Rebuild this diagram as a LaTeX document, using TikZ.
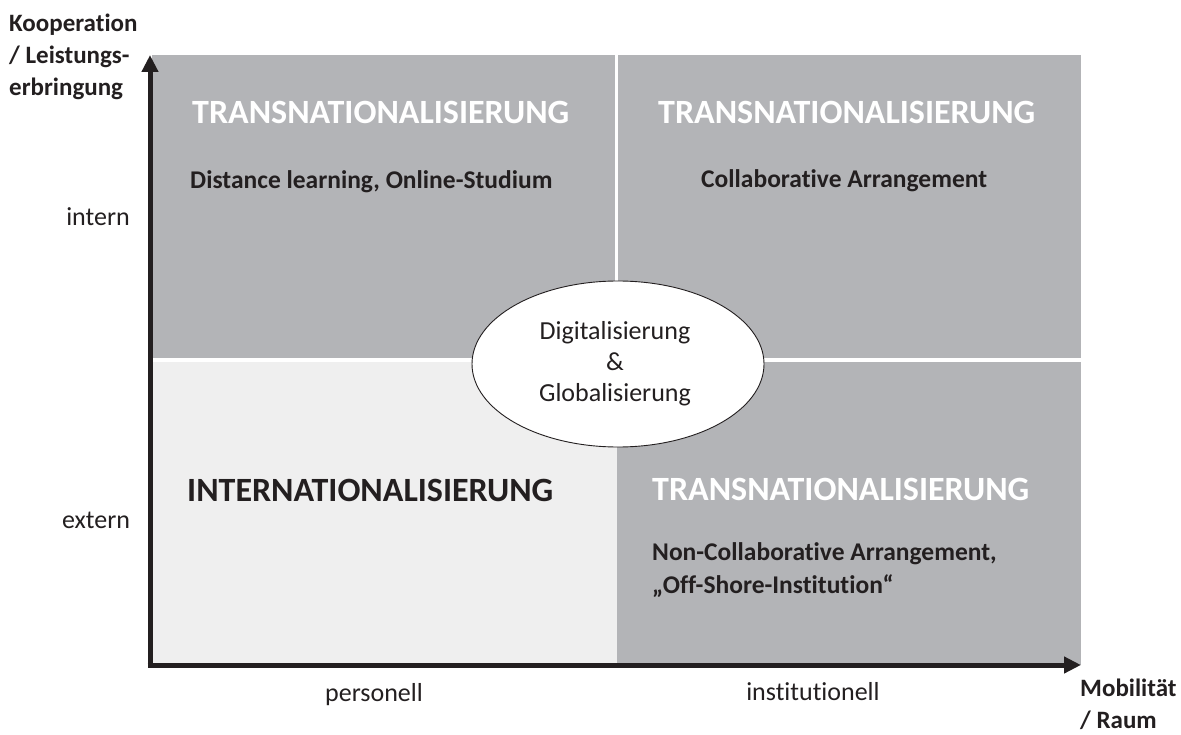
\documentclass[tikz,border=0pt]{standalone}
\usepackage{fontspec}
\setmainfont[Ligatures=NoCommon]{Carlito}
\usetikzlibrary{arrows.meta,shapes.geometric}
\definecolor{qdark}{RGB}{179,180,183}
\definecolor{qlight}{RGB}{239,239,239}
\definecolor{ink}{RGB}{35,31,32}
\tikzset{
  big/.style={font=\fontsize{34}{38}\selectfont\bfseries, inner sep=0pt, anchor=base west},
  sub/.style={font=\fontsize{25.5}{33}\selectfont\bfseries, text=ink, inner sep=0pt, anchor=base west, align=left},
  axlab/.style={font=\fontsize{25}{32}\selectfont\bfseries, text=ink, inner sep=0pt, anchor=base west, align=left},
  tick/.style={font=\fontsize{26}{30}\selectfont, text=ink, inner sep=0pt, anchor=base},
  axis/.style={line width=5pt, draw=ink, -{Triangle[length=17pt,width=16pt]}},
}
\begin{document}
\begin{tikzpicture}[x=1pt,y=-1pt]
\useasboundingbox (0,0) rectangle (1181,735);
% quadrants
\fill[qdark] (152,55) rectangle (615,358);
\fill[qdark] (618,55) rectangle (1081,358);
\fill[qlight] (152,362) rectangle (617,665);
\fill[qdark] (617,362) rectangle (1081,665);
% axes
\coordinate (O) at (150,665);
\coordinate (ytip) at (150,55);
\coordinate (xtip) at (1081,665);
\draw[axis] ([yshift=-2.5pt]O) -- (ytip);
\draw[axis] ([xshift=-2.5pt]O) -- (xtip);
% ellipse
\node[ellipse, draw=ink, line width=0.9pt, fill=white, minimum width=292pt, minimum height=166pt, inner sep=0pt] (ell) at (618,364) {};
\node[font=\fontsize{26}{31}\selectfont, text=ink, align=center, inner sep=0pt] (elltext) at ([xshift=-3pt]ell.center) {Digitalisierung\\\&\\Globalisierung};
% quadrant texts
\node[big, text=white] (tl) at (192,124) {TRANSNATIONALISIERUNG};
\node[sub] (tlsub) at (190,189) {Distance learning, Online-Studium};
\node[big, text=white] (tr) at (658,124) {TRANSNATIONALISIERUNG};
\node[sub] (trsub) at (701,188) {Collaborative Arrangement};
\node[big, text=ink] (bl) at (187,501) {INTERNATIONALISIERUNG};
\node[big, text=white] (br) at (652,500) {TRANSNATIONALISIERUNG};
\node[sub] (brsub) at (652,593) {Non-Collaborative Arrangement,\\„Off-Shore-Institution“};
% axis labels
\node[axlab] (ylab) at (9,96) {Kooperation\\/ Leistungs-\\erbringung};
\node[axlab] (xlab) at (1080,728) {Mobilität\\/ Raum};
\node[tick] (intern) at (98,226) {intern};
\node[tick] (extern) at (96,528) {extern};
\node[tick] (pers) at (374,701) {personell};
\node[tick] (inst) at (813,700) {institutionell};
\end{tikzpicture}
\end{document}
